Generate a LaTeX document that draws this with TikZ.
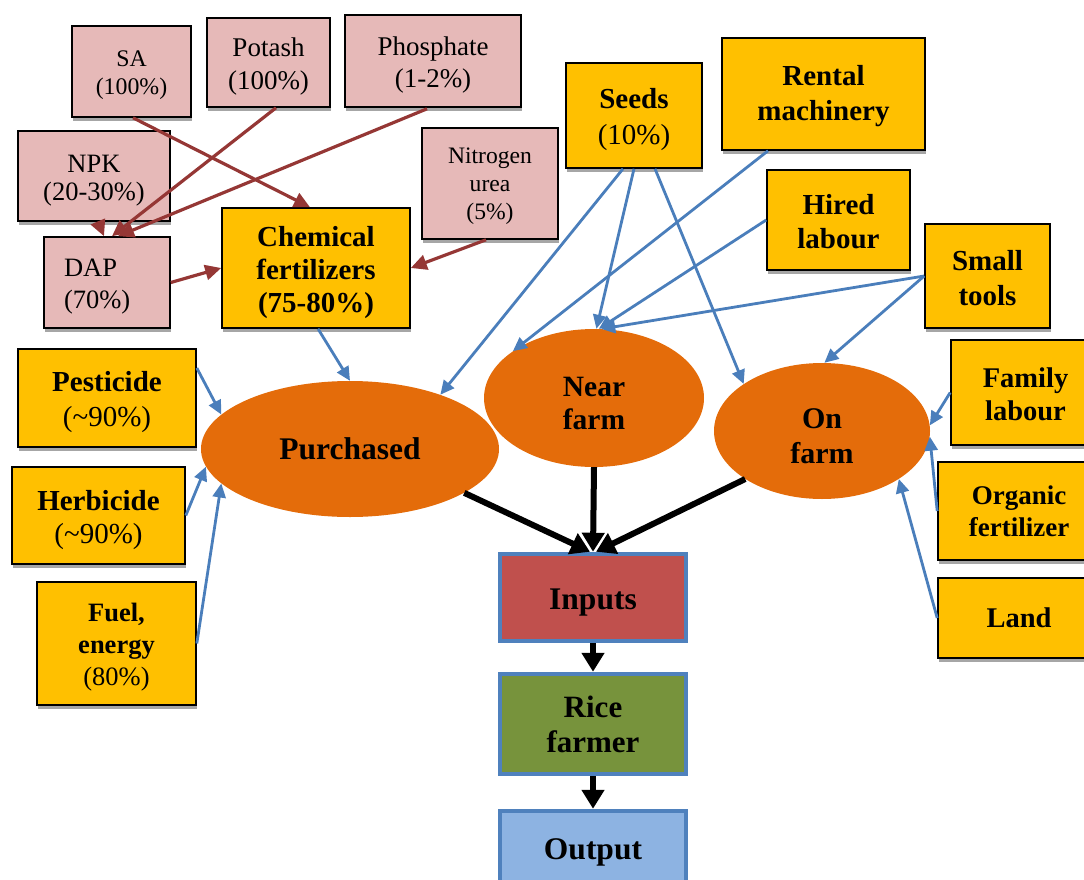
\documentclass[tikz,border=0pt]{standalone}
\usepackage{fontspec}
\setmainfont{Liberation Serif}
\usetikzlibrary{arrows.meta,shapes.geometric,shadows,calc}

\definecolor{pinkfill}{HTML}{E6B9B8}
\definecolor{yellowfill}{HTML}{FFC000}
\definecolor{orangefill}{HTML}{E46C0A}
\definecolor{redline}{HTML}{953735}
\definecolor{blueline}{HTML}{4A7EBB}
\definecolor{stageblue}{HTML}{4F81BD}
\definecolor{inputsfill}{HTML}{C0504D}
\definecolor{ricefill}{HTML}{77933C}
\definecolor{outputfill}{HTML}{8DB3E2}
\definecolor{shadowgray}{HTML}{A6A6A6}

\newcommand{\fsz}[2]{\fontsize{#1}{#2}\selectfont}
% tall strut for a first line, which sets a text block a little lower
\newcommand{\tallline}[1][1]{\rule{0pt}{#1em}}

\tikzset{
  dims/.style 2 args={minimum width=#1pt, minimum height=#2pt},
  basebox/.style={rectangle, draw=black, line width=1.6pt, align=center,
    inner sep=0pt,
    drop shadow={shadow xshift=0.5pt, shadow yshift=-4pt, fill=shadowgray, opacity=1}},
  pinkbox/.style={basebox, fill=pinkfill},
  yellowbox/.style={basebox, fill=yellowfill},
  oval/.style={ellipse, fill=orangefill, draw=none, inner sep=0pt, align=center},
  stagebox/.style={rectangle, draw=stageblue, line width=4.5pt, align=center,
    inner sep=0pt, font=\fsz{31.5}{35}\bfseries},
  redarrow/.style={draw=redline, line width=3.2pt, -{Triangle[length=16pt,width=15pt]}},
  bluearrow/.style={draw=blueline, line width=2.8pt, -{Triangle[length=14pt,width=13pt]}},
  blackarrow/.style={draw=black, line width=6pt, -{Triangle[length=19pt,width=22pt]}},
}

\begin{document}
\begin{tikzpicture}[x=1pt, y=-1pt]
\useasboundingbox (0,0) rectangle (1084,880);
\clip (0,0) rectangle (1084,880);

% fertilizer sources
\node[pinkbox, dims={119}{91}, font=\fsz{23.8}{28}] (sa) at (131.5,71.5) {\tallline SA\\(100\%)};
\node[pinkbox, dims={123}{89}, font=\fsz{27}{33}] (potash) at (268.5,62.5) {\tallline Potash\\(100\%)};
\node[pinkbox, dims={176}{92}, font=\fsz{27}{32}] (phosphate) at (433,61) {\tallline Phosphate\\(1-2\%)};
\node[pinkbox, dims={152}{90}, font=\fsz{26.5}{28}] (npk) at (94,176) {\tallline NPK\\(20-30\%)};
\node[pinkbox, dims={126}{91}, font=\fsz{26.5}{32}, align=left, inner xsep=20pt, text width=86pt] (dap) at (107,282.5) {\tallline DAP\\(70\%)};
\node[pinkbox, dims={136}{111}, font=\fsz{23.6}{28}] (nitrogen) at (490,183.5) {\tallline[0.9]Nitrogen\\urea\\(5\%)};
\node[yellowbox, dims={188}{120}, font=\fsz{29}{33}\bfseries] (chem) at (316,268) {\tallline Chemical\\fertilizers\\(75-80\%)};

% upper inputs
\node[yellowbox, dims={136}{105}, font=\fsz{29}{36}] (seeds) at (634,115.5) {\tallline\textbf{Seeds}\\(10\%)};
\node[yellowbox, dims={203}{112}, font=\fsz{29}{35}\bfseries] (rental) at (823.5,94) {\tallline[0.82]Rental\\machinery};
\node[yellowbox, dims={143}{100}, font=\fsz{29}{34}\bfseries] (hired) at (838.5,220) {\tallline[0.82]Hired\\labour};
\node[yellowbox, dims={125}{104}, font=\fsz{29}{35}\bfseries] (small) at (987.5,276) {\tallline[0.82]Small\\tools};

% right-hand inputs
\node[yellowbox, dims={149}{105}, font=\fsz{28.5}{33}\bfseries] (family) at (1025.5,392.5) {\tallline[0.82]Family\\labour};
\node[yellowbox, dims={162}{98}, font=\fsz{27}{32}\bfseries] (organic) at (1019,511) {Organic\\fertilizer};
\node[yellowbox, dims={162}{80}, font=\fsz{28.5}{33}\bfseries] (land) at (1019,618) {Land};

% left-hand inputs
\node[yellowbox, dims={178}{98}, font=\fsz{29}{35}] (pesticide) at (107,398) {\tallline\textbf{Pesticide}\\(\textasciitilde 90\%)};
\node[yellowbox, dims={173}{97}, font=\fsz{29}{33}] (herbicide) at (98.5,515.5) {\tallline\textbf{Herbicide}\\(\textasciitilde 90\%)};
\node[yellowbox, dims={159}{123}, font=\fsz{26.5}{32}] (fuel) at (116.5,643.5) {\tallline\textbf{Fuel,}\\\textbf{energy}\\(80\%)};

% sourcing groups
\node[oval, dims={298}{136}, font=\fsz{31.5}{35}\bfseries] (purch) at (350,449) {Purchased};
\node[oval, dims={220}{138}, font=\fsz{29.5}{33}\bfseries] (near) at (594,398) {\tallline Near\\farm};
\node[oval, dims={216}{136}, font=\fsz{30}{35}\bfseries] (onfarm) at (822,431) {\tallline On\\farm};

% production chain
\node[stagebox, dims={186}{87}, fill=inputsfill] (inputs) at (593,597.5) {\tallline Inputs};
\node[stagebox, dims={186}{100}, fill=ricefill, font=\fsz{31}{35}\bfseries] (rice) at (593,724) {Rice\\farmer};
\node[stagebox, dims={186}{82}, fill=outputfill] (output) at (593,852) {Output};

% fertilizer flows
\draw[redarrow] ($(sa.south)+(1.5,0)$) -- ($(chem.north)+(-6,0)$);
\draw[redarrow] ($(potash.south)+(7.5,0)$) -- ($(dap.north)+(5,0)$);
\draw[redarrow] ($(phosphate.south)+(-6,1)$) -- ($(dap.north)+(11,0)$);
\draw[redarrow] ($(npk.south)+(4,0)$) -- ($(dap.north)+(-3,0)$);
\draw[redarrow] (dap.east) -- (chem.west);
\draw[redarrow] ($(nitrogen.south)+(-4,0)$) -- (chem.east);

% input flows
\draw[bluearrow] ($(chem.south)+(2,0)$) -- (purch.north);
\draw[bluearrow] ($(seeds.south)+(-11,0)$) -- (purch.31);
\draw[bluearrow] (seeds.south) -- (near.88);
\draw[bluearrow] ($(seeds.south)+(21,0)$) -- (onfarm.149);
\draw[bluearrow] ($(rental.south)+(-55.5,0)$) -- (near.150);
\draw[bluearrow] (hired.west) -- (near.86);
\draw[bluearrow] (small.west) -- (near.84);
\draw[bluearrow] (small.west) -- (onfarm.88);
\draw[bluearrow] ($(pesticide.east)+(0,-30)$) -- (purch.165);
\draw[bluearrow] (herbicide.east) -- (purch.187);
\draw[bluearrow] (fuel.east) -- (purch.195);
\draw[bluearrow] (family.west) -- (onfarm.3);
\draw[bluearrow] (organic.west) -- (onfarm.-3);
\draw[bluearrow] (land.west) -- (onfarm.-32);

% into production
\draw[blackarrow] (purch.-21) -- ($(inputs.north)+(-3,0)$);
\draw[blackarrow] (near.south) -- (inputs.north);
\draw[blackarrow] (onfarm.212) -- ($(inputs.north)+(3,0)$);
\draw[blackarrow] (inputs.south) -- (rice.north);
\draw[blackarrow] (rice.south) -- (output.north);
\end{tikzpicture}
\end{document}
